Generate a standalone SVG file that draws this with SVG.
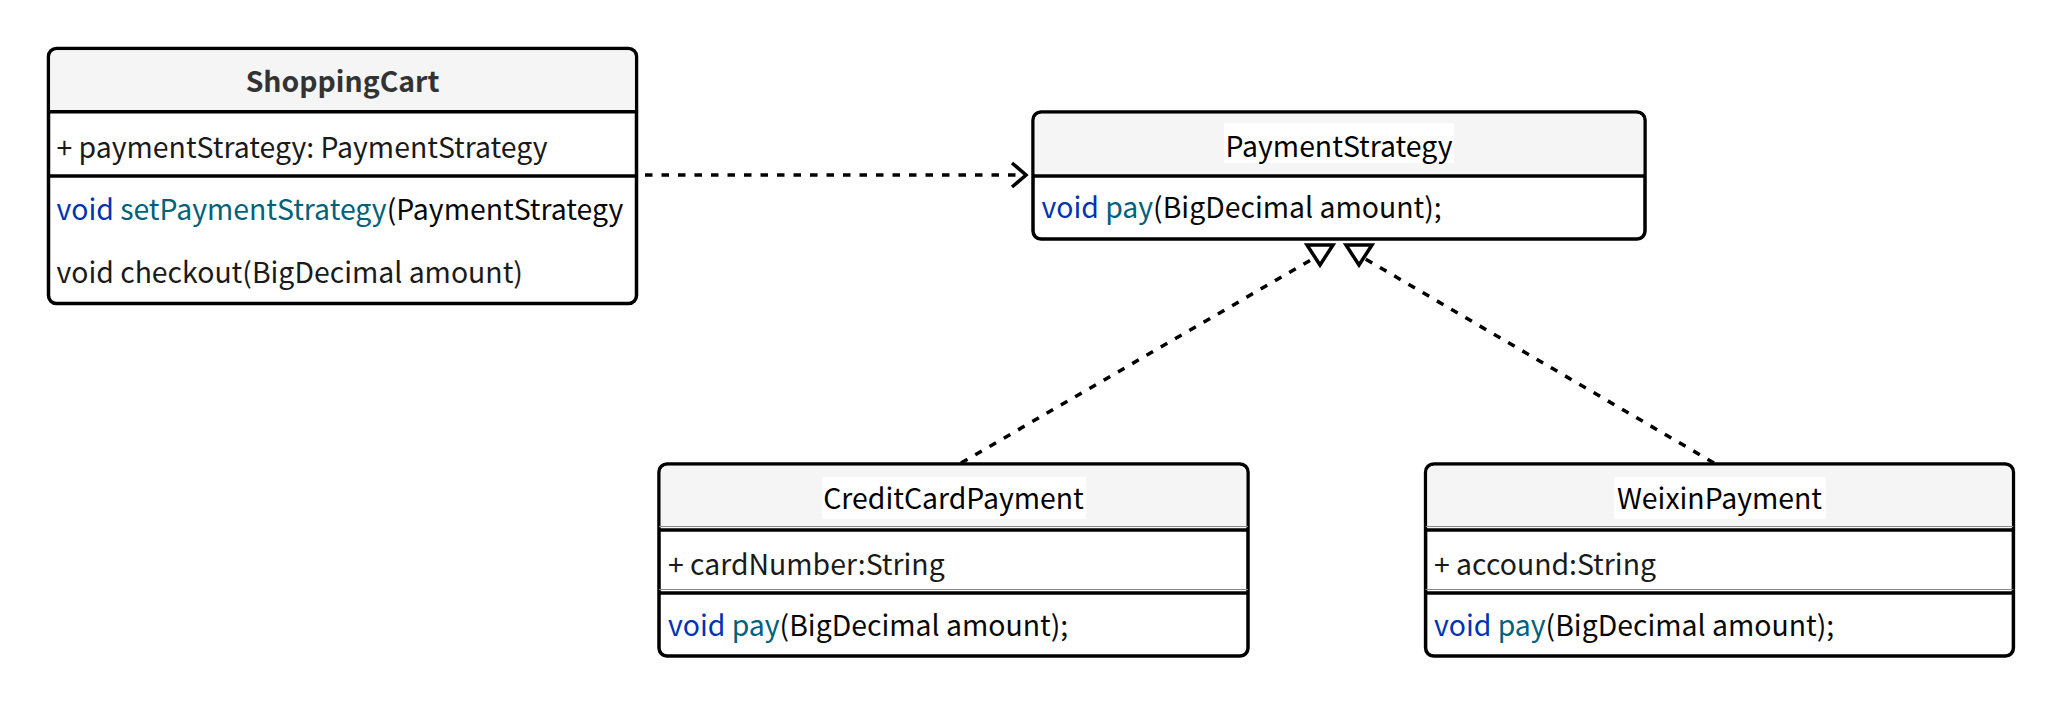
<svg xmlns="http://www.w3.org/2000/svg" width="2062" height="706" viewBox="0 0 2062 706">
<style>
text{font-family:"Noto Sans CJK SC","Source Sans Pro","Noto Sans",sans-serif;font-size:28.4px;fill:#1a1a1a}
.title{text-anchor:middle;fill:#000}
.bold{font-weight:bold;fill:#333}
.box{fill:#fff;stroke:#000;stroke-width:3.5}
.hdr{fill:#f5f5f5}
.div{stroke:#000;stroke-width:3.5}
.lbg{fill:#fff}
.kw{fill:#0033b3}
.fn{fill:#00627a}
.pl{fill:#080808}
.edge{fill:none;stroke:#000;stroke-width:3.5;stroke-dasharray:7.5 9}
.head{fill:none;stroke:#000;stroke-width:3.5}
.tri{fill:#fff;stroke:#000;stroke-width:3.5;stroke-linejoin:miter}
</style>
<rect width="2062" height="706" fill="#fff"/>
<g id="ShoppingCart">
<rect class="box" x="48.5" y="48.5" width="588" height="255" rx="8"/>
<path class="hdr" d="M57 50.2H628A7 7 0 0 1 634.8 57V110H50.2V57A7 7 0 0 1 57 50.2Z"/>
<line class="div" x1="48.5" y1="111.7" x2="636.5" y2="111.7"/>
<line class="div" x1="48.5" y1="176" x2="636.5" y2="176"/>
<text class="title bold" x="342.5" y="91.7">ShoppingCart</text>
<text x="56.5" y="158">+ paymentStrategy: PaymentStrategy</text>
<text x="56.5" y="220"><tspan class="kw">void</tspan> <tspan class="fn">setPaymentStrategy</tspan><tspan class="pl">(PaymentStrategy</tspan></text>
<text x="56.5" y="283">void checkout(BigDecimal amount)</text>
</g>
<g id="PaymentStrategy">
<rect class="box" x="1033" y="112" width="612" height="127" rx="8"/>
<path class="hdr" d="M1041 113.7H1636A7 7 0 0 1 1643.3 121V174.3H1034.7V121A7 7 0 0 1 1041 113.7Z"/>
<line class="div" x1="1033" y1="176" x2="1645" y2="176"/>
<rect class="lbg" x="1224" y="123" width="230" height="40"/>
<text class="title" x="1339" y="156.7">PaymentStrategy</text>
<text x="1041.5" y="218.3"><tspan class="kw">void</tspan> <tspan class="fn">pay</tspan><tspan class="pl">(BigDecimal amount);</tspan></text>
</g>
<g id="CreditCardPayment">
<rect class="box" x="659" y="464" width="589" height="192" rx="8"/>
<path class="hdr" d="M667 465.7H1239A7 7 0 0 1 1246.3 473V528.3H660.7V473A7 7 0 0 1 667 465.7Z"/>
<line x1="659" y1="526.5" x2="1248" y2="526.5" stroke="#888" stroke-width="1"/>
<line class="div" x1="659" y1="530" x2="1248" y2="530"/>
<line x1="659" y1="589.5" x2="1248" y2="589.5" stroke="#888" stroke-width="1"/>
<line class="div" x1="659" y1="593" x2="1248" y2="593"/>
<rect class="lbg" x="822" y="477" width="264" height="42"/>
<text class="title" x="953.5" y="508.7">CreditCardPayment</text>
<text x="668" y="574.5">+ cardNumber:String</text>
<text x="668" y="636"><tspan class="kw">void</tspan> <tspan class="fn">pay</tspan><tspan class="pl">(BigDecimal amount);</tspan></text>
</g>
<g id="WeixinPayment">
<rect class="box" x="1425.6" y="464" width="587.8" height="192" rx="8"/>
<path class="hdr" d="M1434 465.7H2005A7 7 0 0 1 2011.7 473V528.3H1427.3V473A7 7 0 0 1 1434 465.7Z"/>
<line x1="1425.6" y1="526.5" x2="2013.4" y2="526.5" stroke="#888" stroke-width="1"/>
<line class="div" x1="1425.6" y1="530" x2="2013.4" y2="530"/>
<line x1="1425.6" y1="589.5" x2="2013.4" y2="589.5" stroke="#888" stroke-width="1"/>
<line class="div" x1="1425.6" y1="593" x2="2013.4" y2="593"/>
<rect class="lbg" x="1614" y="477" width="212" height="42"/>
<text class="title" x="1719.5" y="508.7">WeixinPayment</text>
<text x="1434" y="574.5">+ accound:String</text>
<text x="1434" y="636"><tspan class="kw">void</tspan> <tspan class="fn">pay</tspan><tspan class="pl">(BigDecimal amount);</tspan></text>
</g>
<g id="connectors">
<line class="edge" x1="645" y1="175" x2="1024" y2="175"/>
<polyline class="head" points="1012,163 1026,175 1012,187"/>
<line class="edge" x1="961" y1="463" x2="1316" y2="257"/>
<polygon class="tri" points="1307,245 1333,245 1320,265"/>
<line class="edge" x1="1714" y1="463" x2="1362" y2="257"/>
<polygon class="tri" points="1346,245 1372,245 1359,265"/>
</g>
</svg>
